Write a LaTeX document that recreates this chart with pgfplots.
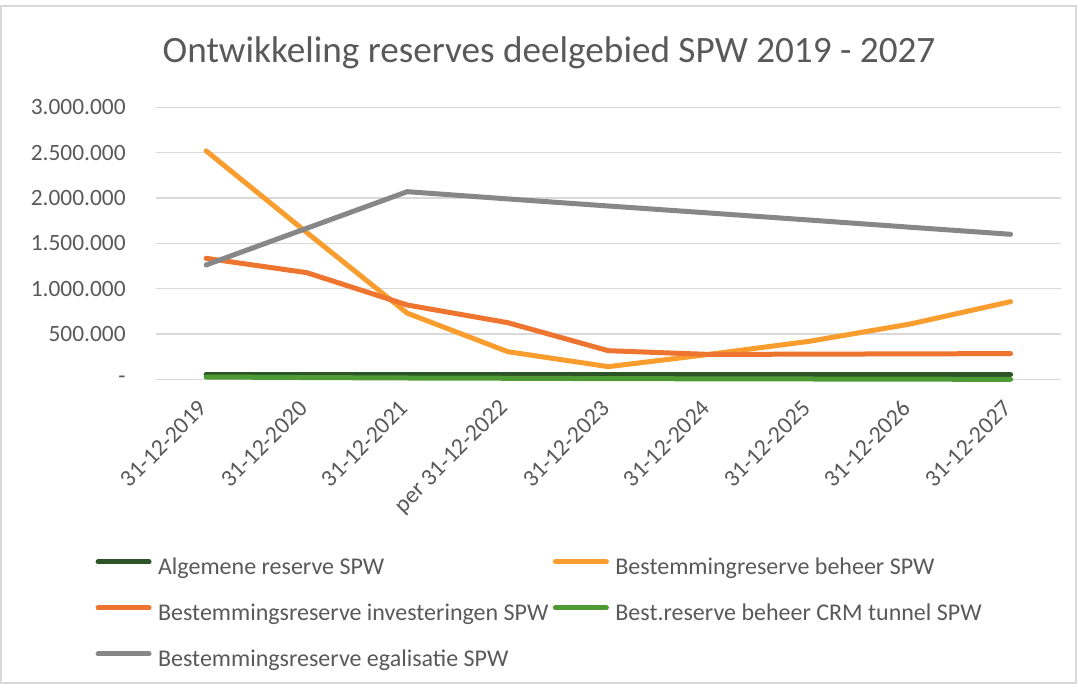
\documentclass[border=0pt]{standalone}
\usepackage{pgfplots}
\pgfplotsset{compat=1.18}
\usepackage{pgfplotstable}
\usepackage{fontspec}
\setmainfont{Carlito}
\definecolor{txt}{HTML}{595959}
\definecolor{gridc}{HTML}{D9D9D9}
\definecolor{cAlg}{HTML}{2B5526}
\definecolor{cBeh}{HTML}{F89D2E}
\definecolor{cInv}{HTML}{EE7530}
\definecolor{cCrm}{HTML}{4E9A34}
\definecolor{cEga}{HTML}{878787}
\pgfplotstableread{
x alg beh inv crm ega
0 55000 2520000 1335000 26000 1262000
1 55000 1620000 1177000 20000 1666000
2 55000 730000 820000 15000 2070000
3 55000 305000 625000 12000 1990000
4 55000 140000 316000 8000 1912000
5 55000 275000 275000 6000 1835000
6 55000 420000 278000 4000 1757000
7 55000 610000 281000 2000 1678000
8 55000 857000 284000 0 1600000
}\datatable
\begin{document}
\begin{tikzpicture}[x=1pt,y=1pt]
\useasboundingbox (0,0) rectangle (1077,684);
\draw[color=gridc, line width=1.2pt] (1,1) rectangle (1076,678);
\node[text=txt, font=\fontsize{37.2}{42}\selectfont, anchor=base] at (549,621) {Ontwikkeling reserves deelgebied SPW 2019 - 2027};
\begin{axis}[
  at={(155,336)}, anchor=south west,
  scale only axis, width=905pt, height=272pt,
  xmin=-0.5, xmax=8.5, ymin=0, ymax=3000000,
  ytick={0,500000,1000000,1500000,2000000,2500000,3000000},
  yticklabels={-,500.000,1.000.000,1.500.000,2.000.000,2.500.000,3.000.000},
  xtick={0,1,2,3,4,5,6,7,8},
  xticklabels={31-12-2019,31-12-2020,31-12-2021,per 31-12-2022,31-12-2023,31-12-2024,31-12-2025,31-12-2026,31-12-2027},
  ymajorgrids, grid style={color=gridc, line width=1.5pt},
  axis line style={draw=none}, major tick style={draw=none},
  scaled y ticks=false,
  yticklabel style={font=\fontsize{23.4}{28}\selectfont, text=txt, anchor=east, inner sep=0pt, xshift=-30pt},
  xticklabel style={font=\fontsize{23.8}{28}\selectfont, text=txt, inner sep=0pt, xshift=-3pt, yshift=-25pt, rotate=45, anchor=east},
  clip=false,
  every axis plot/.append style={line width=5pt, line cap=round, line join=round},
  legend columns=2,
  legend cell align=left,
  legend image code/.code={\path (0pt,0pt) (56pt,0pt); \draw[line width=5pt, line cap=round] (2.5pt,7pt) -- (53.5pt,7pt);},
  legend style={at={(rel axis cs:-0.0696,-0.654)}, anchor=north west, draw=none, fill=none, inner sep=0pt, row sep=23pt,
    font=\fontsize{24}{28}\selectfont, text=txt,
    nodes={inner sep=0pt, text height=17pt, text depth=6pt},
    /tikz/every odd column/.append style={column sep=4pt},
    /tikz/every even column/.append style={column sep=2pt}},
]
\addplot[color=cAlg] table[x=x,y=alg]{\datatable};
\addlegendentry{Algemene reserve SPW}
\addplot[color=cBeh] table[x=x,y=beh]{\datatable};
\addlegendentry{Bestemmingreserve beheer SPW}
\addplot[color=cInv] table[x=x,y=inv]{\datatable};
\addlegendentry{Bestemmingsreserve investeringen SPW}
\addplot[color=cCrm] table[x=x,y=crm]{\datatable};
\addlegendentry{Best.reserve beheer CRM tunnel SPW}
\addplot[color=cEga] table[x=x,y=ega]{\datatable};
\addlegendentry{Bestemmingsreserve egalisatie SPW}
\end{axis}
\end{tikzpicture}
\end{document}
